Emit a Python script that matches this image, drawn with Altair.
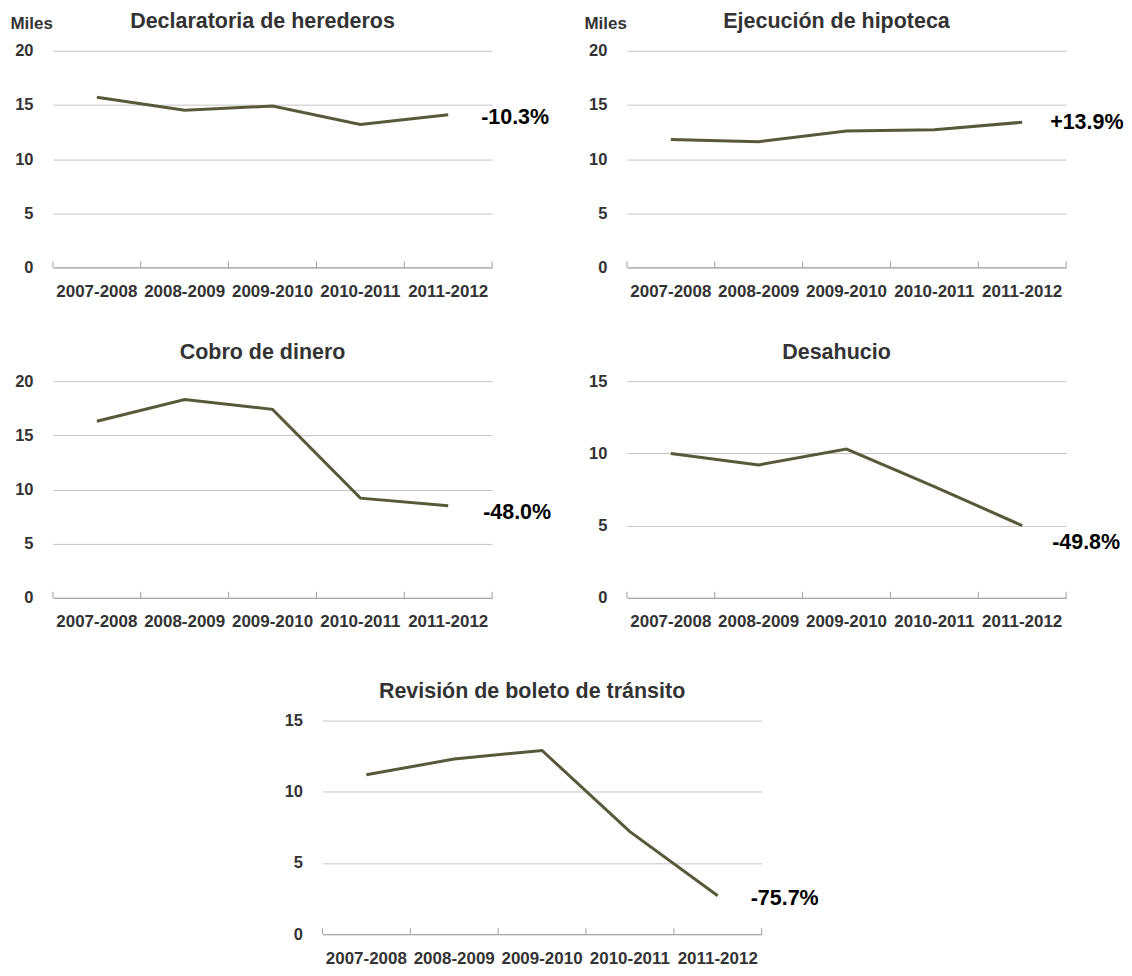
import altair as alt
import pandas as pd

# ---------------- data ----------------
categories = ["2007-2008", "2008-2009", "2009-2010", "2010-2011", "2011-2012"]
titles = [
    "Declaratoria de herederos",
    "Ejecución de hipoteca",
    "Cobro de dinero",
    "Desahucio",
    "Revisión de boleto de tránsito",
]
declaratoria = [15.7, 14.5, 14.9, 13.2, 14.1]
ejecucion = [11.8, 11.6, 12.6, 12.7, 13.4]
cobro = [16.3, 18.3, 17.4, 9.2, 8.5]
desahucio = [10.0, 9.2, 10.3, 7.7, 5.0]
revision = [11.2, 12.3, 12.9, 7.2, 2.7]
cambios = ["-10.3%", "+13.9%", "-48.0%", "-49.8%", "-75.7%"]
ticks_20 = [0, 5, 10, 15, 20]
ticks_15 = [0, 5, 10, 15]

# ---------------- style ----------------
FONT = "Liberation Sans, Arial, sans-serif"
TEXT = "#333333"
LINE = "#595939"
GRID = "#c4c4c4"
AXIS = "#9e9e9e"
W = 440


def frame_box(frame, height, width=W):
    L, R, T, B = frame
    return alt.Chart(pd.DataFrame({"k": [0]})).mark_rect(opacity=0).encode(
        x=alt.value(-L), x2=alt.value(width + R),
        y=alt.value(-T), y2=alt.value(height + B),
    )


def panel(title, values, change, yticks, miles, height, frame, label_dx, label_dy):
    df = pd.DataFrame({"periodo": categories, "valor": values})
    last = df.iloc[[-1]].assign(texto=change, titulo=title)

    xscale = alt.Scale(type="band", paddingInner=0, paddingOuter=0, domain=categories)
    yscale = alt.Scale(domain=[0, yticks[-1]], nice=False)
    xaxis = alt.Axis(
        title=None, labelAngle=0, ticks=False, tickSize=0, grid=False,
        domainColor=AXIS, domainWidth=1, labelPadding=16,
        labelFont=FONT, labelFontSize=17, labelFontWeight="bold", labelColor=TEXT,
    )
    ykw = dict(
        values=yticks, grid=True, gridColor=GRID, gridWidth=1, domain=False, ticks=False,
        labelPadding=20, labelFont=FONT, labelFontSize=16.5, labelFontWeight="bold",
        labelColor=TEXT,
    )
    if miles:
        ykw.update(
            title="Miles", titleAngle=0, titleAlign="left", titleBaseline="alphabetic",
            titleX=-43, titleY=-22, titleFont=FONT, titleFontSize=17,
            titleFontWeight="bold", titleColor=TEXT,
        )
    else:
        ykw.update(title=None)
    yaxis = alt.Axis(**ykw)

    line = alt.Chart(df).mark_line(color=LINE, strokeWidth=3).encode(
        x=alt.X("periodo:N", scale=xscale, axis=xaxis, bandPosition=0.5, sort=categories),
        y=alt.Y("valor:Q", scale=yscale, axis=yaxis),
    )
    ticks = alt.Chart(df).mark_rule(color=AXIS, strokeWidth=1).encode(
        x=alt.X("periodo:N", axis=xaxis, bandPosition=0, sort=categories),
        y=alt.value(height - 6),
        y2=alt.value(height),
    )
    end_tick = alt.Chart(last).mark_rule(color=AXIS, strokeWidth=1).encode(
        x=alt.X("periodo:N", axis=xaxis, bandPosition=1, sort=categories),
        y=alt.value(height - 6),
        y2=alt.value(height),
    )
    label = alt.Chart(last).mark_text(
        align="left", baseline="middle", dx=label_dx, dy=label_dy,
        font=FONT, fontSize=21.5, fontWeight="bold", color="#000000",
    ).encode(
        x=alt.X("periodo:N", axis=xaxis, bandPosition=0.5, sort=categories),
        y=alt.Y("valor:Q", axis=yaxis),
        text="texto:N",
    )
    heading = alt.Chart(last).mark_text(
        align="center", baseline="alphabetic",
        font=FONT, fontSize=21.5, fontWeight="bold", color=TEXT,
    ).encode(
        x=alt.value(W / 2 - 10),
        y=alt.value(-22.5),
        text="titulo:N",
    )
    return alt.layer(line, ticks, end_tick, label, heading, frame_box(frame, height)).properties(
        width=W, height=height
    )


p1 = panel(titles[0], declaratoria, cambios[0], ticks_20, True, 217, (45, 65, 42, 38), 33, 3)
p2 = panel(titles[1], ejecucion, cambios[1], ticks_20, True, 217, (45, 50, 42, 38), 28, 1)
p3 = panel(titles[2], cobro, cambios[2], ticks_20, False, 217, (45, 65, 52, 38), 35, 7)
p4 = panel(titles[3], desahucio, cambios[3], ticks_15, False, 217, (45, 50, 52, 38), 30, 17)
p5 = panel(titles[4], revision, cambios[4], ticks_15, False, 214, (45, 65, 61, 20), 33, 3)

# empty block that pushes the last panel towards the centre
spacer = frame_box((0, 0, 0, 0), 10, 225).properties(width=225, height=10)

row1 = alt.hconcat(p1, p2, spacing=25)
row2 = alt.hconcat(p3, p4, spacing=25)
row3 = alt.hconcat(spacer, p5, spacing=0)
chart = (
    alt.vconcat(row1, row2, row3, spacing=24)
    .properties(padding={"left": 0, "top": 0, "right": 0, "bottom": 0}, background="white")
    .configure_view(strokeWidth=0)
)

chart.save("out.html", embed_options={"renderer": "svg", "actions": False})
